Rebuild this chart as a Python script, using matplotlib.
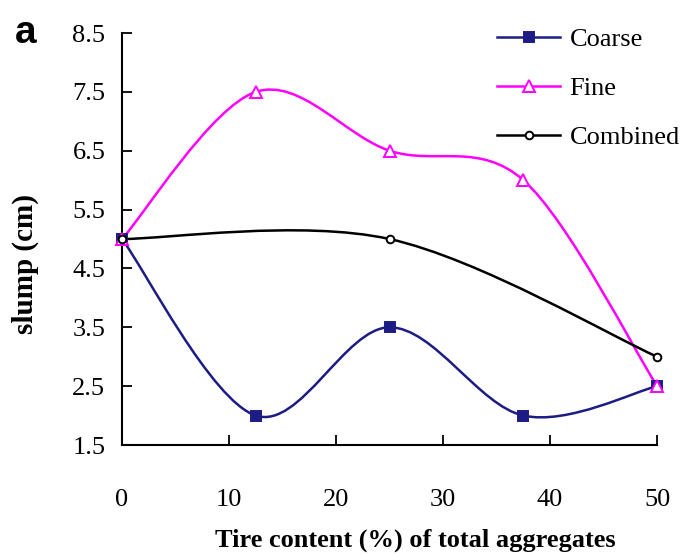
import numpy as np
import matplotlib
matplotlib.use("Agg")
import matplotlib.pyplot as plt
from matplotlib.path import Path
from matplotlib.patches import PathPatch
from matplotlib.lines import Line2D

tire = [0, 12.5, 25, 37.5, 50]
coarse = [5.0, 2.0, 3.5, 2.0, 2.5]
fine = [5.0, 7.5, 6.5, 6.0, 2.5]
comb_x = [0, 25, 50]
combined = [5.0, 5.0, 3.0]

xticks = [0, 10, 20, 30, 40, 50]
yticks = [1.5, 2.5, 3.5, 4.5, 5.5, 6.5, 7.5, 8.5]

plt.rcParams['font.family'] = ['Liberation Serif', 'DejaVu Serif']

fig = plt.figure(figsize=(6.91, 5.56), dpi=100)
ax = fig.add_axes([0.1766, 0.1996, 0.7744, 0.741])


def smooth_path(xs, ys):
    # Excel-style smoothed line (Catmull-Rom Bezier) through the data points
    px = [xs[0]] + list(xs) + [xs[-1]]
    py = [ys[0]] + list(ys) + [ys[-1]]
    verts = [(xs[0], ys[0])]
    codes = [Path.MOVETO]
    for i in range(1, len(px) - 2):
        c1 = (px[i] + (px[i + 1] - px[i - 1]) / 6, py[i] + (py[i + 1] - py[i - 1]) / 6)
        c2 = (px[i + 1] - (px[i + 2] - px[i]) / 6, py[i + 1] - (py[i + 2] - py[i]) / 6)
        verts += [c1, c2, (px[i + 1], py[i + 1])]
        codes += [Path.CURVE4] * 3
    return Path(verts, codes)


series = [
    (tire, coarse, '#1c1c84', 's', '#1c1c84', 'Coarse', 7),
    (tire, fine, '#ff00ff', '^', 'white', 'Fine', 8),
    (comb_x, combined, 'black', 'o', 'white', 'Combined', 5.5),
]
handles = []
for xs, ys, col, mk, mfc, lab, ms in series:
    ax.add_patch(PathPatch(smooth_path(xs, ys), facecolor='none', edgecolor=col, lw=1.8, zorder=2))
    ax.plot(xs, ys, linestyle='none', marker=mk, markersize=ms, markerfacecolor=mfc,
            markeredgecolor=col, markeredgewidth=1.4, zorder=3, clip_on=False)
    handles.append(Line2D([], [], color=col, lw=1.8, marker=mk, markersize=ms,
                          markerfacecolor=mfc, markeredgecolor=col, markeredgewidth=1.4, label=lab))

ax.set_xlim(0, 50)
ax.set_ylim(1.5, 8.5)
ax.set_xticks(xticks)
ax.set_yticks(yticks)
ax.set_yticklabels([f"{v:.1f}" for v in yticks])
ax.tick_params(direction='in', length=7, width=1.3)
ax.tick_params(axis='x', labelsize=19, pad=32)
ax.tick_params(axis='y', labelsize=19, pad=12)
for s in ['top', 'right']:
    ax.spines[s].set_visible(False)
for s in ['left', 'bottom']:
    ax.spines[s].set_linewidth(1.5)

ax.set_xlabel('Tire content (%) of total aggregates', fontsize=19, fontweight='bold')
ax.xaxis.set_label_coords(0.548, -0.203)
ax.set_ylabel('slump (cm)', fontsize=21, fontweight='bold')
ax.yaxis.set_label_coords(-0.156, 0.439)

leg = ax.legend(handles=handles, loc='upper left', bbox_to_anchor=(0.701, 1.013), frameon=False,
                borderaxespad=0, borderpad=0,
                fontsize=19, handlelength=2.4, handletextpad=0.34, labelspacing=0.97)

fig.text(0.022, 0.923, 'a', fontsize=28, fontweight='bold', family=['Liberation Sans', 'DejaVu Sans'])

fig.savefig('out.png', dpi=100)
